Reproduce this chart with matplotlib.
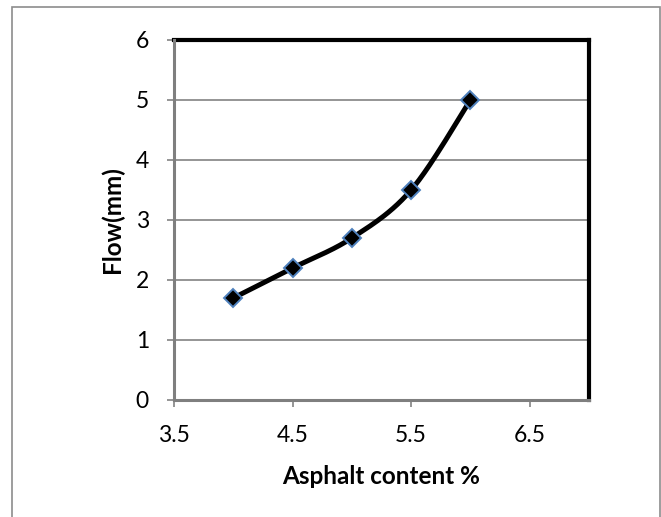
import numpy as np
import matplotlib
matplotlib.use("Agg")
import matplotlib.pyplot as plt
from matplotlib.patches import Rectangle

asphalt = [4.0, 4.5, 5.0, 5.5, 6.0]
flow = [1.7, 2.2, 2.7, 3.5, 5.0]
xticks = [3.5, 4.5, 5.5, 6.5]
yticks = [0, 1, 2, 3, 4, 5, 6]


def smooth(xs, ys, n=40):
    P = np.column_stack([xs, ys]).astype(float)
    P_ext = np.vstack([P[0], P, P[-1]])
    out = []
    for i in range(1, len(P_ext) - 2):
        p0, p1, p2, p3 = P_ext[i - 1], P_ext[i], P_ext[i + 1], P_ext[i + 2]
        c1 = p1 + (p2 - p0) / 6.0
        c2 = p2 - (p3 - p1) / 6.0
        t = np.linspace(0, 1, n)[:, None]
        seg = ((1 - t) ** 3) * p1 + 3 * ((1 - t) ** 2) * t * c1 + 3 * (1 - t) * t ** 2 * c2 + t ** 3 * p2
        out.append(seg if i == 1 else seg[1:])
    s = np.vstack(out)
    return s[:, 0], s[:, 1]


plt.rcParams['font.family'] = ['Lato', 'DejaVu Sans']

fig = plt.figure(figsize=(6.61, 5.17), dpi=100)
fig.patches.append(Rectangle((12 / 661, -0.1), (659.5 - 12) / 661, 1.1 - 7 / 517,
                             transform=fig.transFigure, fill=False,
                             edgecolor='#8c8c8c', linewidth=1.2))

ax = fig.add_axes([174 / 661, (517 - 400) / 517, (589 - 174) / 661, (400 - 40) / 517])

sx, sy = smooth(asphalt, flow)
ax.plot(sx, sy, color='black', linewidth=3.6, solid_capstyle='round', zorder=3)
ax.plot(asphalt, flow, linestyle='none', marker='D', markersize=9.5,
        markerfacecolor='black', markeredgecolor='#4f81bd', markeredgewidth=1.4, zorder=4)

ax.set_xlim(3.5, 7.0)
ax.set_ylim(0, 6)
ax.set_xticks(xticks)
ax.set_xticklabels([str(v) for v in xticks])
ax.set_yticks(yticks)
ax.set_yticklabels([str(v) for v in yticks])

ax.grid(axis='y', color='#8c8c8c', linewidth=1.3)
ax.set_axisbelow(True)

for side in ('top', 'right'):
    ax.spines[side].set_color('black')
    ax.spines[side].set_linewidth(3)
for side in ('left', 'bottom'):
    ax.spines[side].set_color('#7f7f7f')
    ax.spines[side].set_linewidth(2.2)
    ax.spines[side].set_zorder(5)

ax.tick_params(axis='both', direction='out', length=5, width=1.3, color='#8c8c8c',
               labelsize=16.5, labelcolor='black')
ax.tick_params(axis='x', pad=13)
ax.tick_params(axis='y', pad=13)

ax.set_xlabel('Asphalt content %', fontsize=17.5, fontweight='bold', labelpad=14)
ax.set_ylabel('Flow(mm)', fontsize=17.5, fontweight='bold', labelpad=8)

fig.savefig('out.png', dpi=100)
